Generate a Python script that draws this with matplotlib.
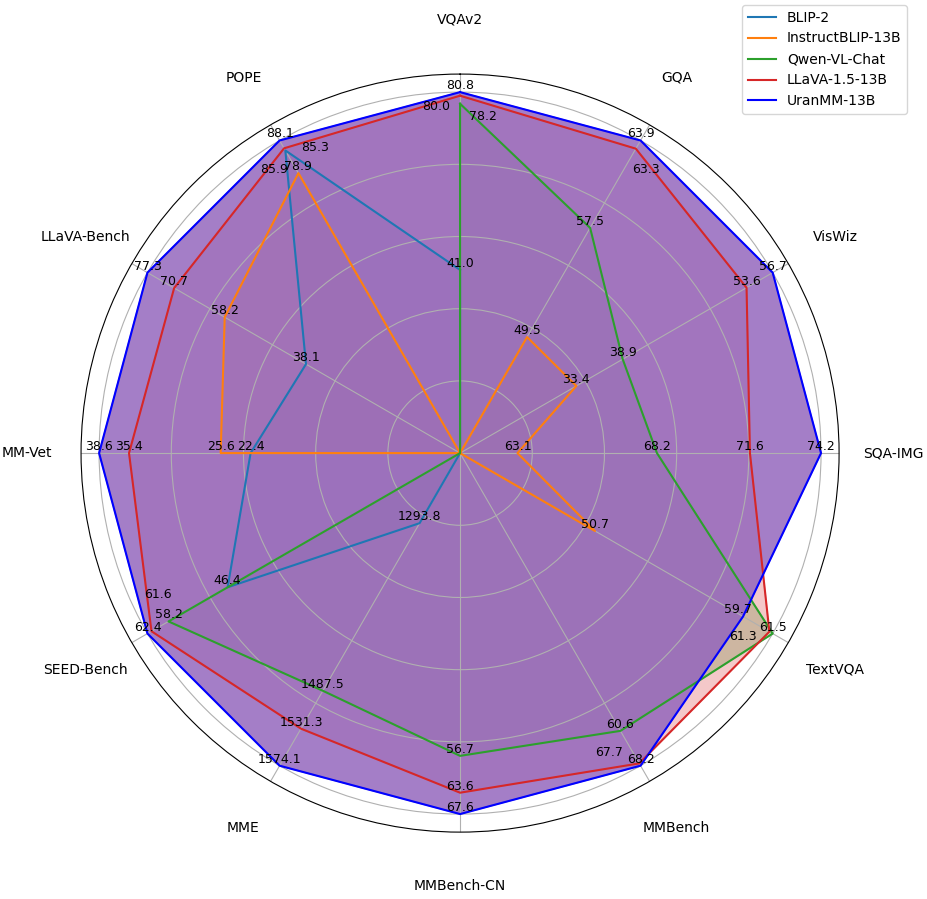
import numpy as np
import matplotlib
matplotlib.use("Agg")
import matplotlib.pyplot as plt

# ---- data ----
categories = ["VQAv2", "GQA", "VisWiz", "SQA-IMG", "TextVQA", "MMBench",
              "MMBench-CN", "MME", "SEED-Bench", "MM-Vet", "LLaVA-Bench", "POPE"]
models = ["BLIP-2", "InstructBLIP-13B", "Qwen-VL-Chat", "LLaVA-1.5-13B", "UranMM-13B"]

blip2 = [41.0, 41.0, 19.6, 61.0, 42.5, None, None, 1293.8, 46.4, 22.4, 38.1, 85.3]
instructblip = [None, 49.5, 33.4, 63.1, 50.7, None, None, 1212.8, None, 25.6, 58.2, 78.9]
qwen_vl_chat = [78.2, 57.5, 38.9, 68.2, 61.5, 60.6, 56.7, 1487.5, 58.2, None, None, None]
llava15 = [80.0, 63.3, 53.6, 71.6, 61.3, 67.7, 63.6, 1531.3, 61.6, 35.4, 70.7, 85.9]
uranmm = [80.8, 63.9, 56.7, 74.2, 59.7, 68.2, 67.6, 1574.1, 62.4, 38.6, 77.3, 88.1]

series = [blip2, instructblip, qwen_vl_chat, llava15, uranmm]

# ---- styling ----
line_colors = ["tab:blue", "tab:orange", "tab:green", "tab:red", "blue"]
fill_colors = ["tab:blue", "tab:orange", "tab:green", "tab:red", "tab:purple"]
fill_alphas = [0.25, 0.25, 0.25, 0.25, 0.85]

# label nudges (pixels) for overlapping value labels: (category idx, model idx) -> (dx, dy)
nudges = {
    (0, 3): (-24, -17), (0, 2): (23, -19),
    (11, 0): (30, -4), (11, 3): (-10, -28),
    (1, 3): (10, -27), (4, 3): (-26, -11), (4, 4): (-5, 0),
    (8, 3): (6, 30), (5, 3): (-30, 4),
}

raw = np.array([[np.nan if v is None else v for v in s] for s in series], dtype=float)
filled = np.nan_to_num(raw, nan=0.0)
mins = filled.min(axis=0)
maxs = filled.max(axis=0)
norm = (filled - mins) / (maxs - mins)

N = len(categories)
angles = np.linspace(0, 2 * np.pi, N, endpoint=False)
angles_c = np.concatenate([angles, angles[:1]])

fig = plt.figure(figsize=(9.27, 8.99), dpi=100)
ax = fig.add_axes([0.0874, 0.0744, 0.8178, 0.8432], projection="polar")
ax.set_theta_offset(np.pi / 2)
ax.set_theta_direction(-1)

handles = []
for i, name in enumerate(models):
    vals = np.concatenate([norm[i], norm[i][:1]])
    h, = ax.plot(angles_c, vals, color=line_colors[i], linewidth=1.5, label=name)
    ax.fill(angles_c, vals, color=fill_colors[i], alpha=fill_alphas[i])
    handles.append(h)

for i in range(len(models)):
    for j in range(N):
        if np.isnan(raw[i, j]) or norm[i, j] <= 0:
            continue
        dx, dy = nudges.get((j, i), (0, 0))
        ax.annotate(f"{raw[i, j]:.1f}", xy=(angles[j], norm[i, j]),
                    xytext=(dx, dy), textcoords="offset pixels",
                    ha="center", va="bottom", fontsize=9, zorder=10)

ax.set_ylim(0, 1.05)
ax.set_yticks([0.2, 0.4, 0.6, 0.8, 1.0])
ax.set_yticklabels([])
ax.set_xticks(angles)
ax.set_xticklabels([])

for ang, cat in zip(angles, categories):
    ax.text(ang, 1.2, cat, ha="center", va="center", fontsize=10, clip_on=False)

fig.legend(handles=handles, loc="upper right",
           bbox_to_anchor=(907 / 927, 1 - 5 / 899), borderaxespad=0, fontsize=10)

fig.savefig("out.png", dpi=100)
